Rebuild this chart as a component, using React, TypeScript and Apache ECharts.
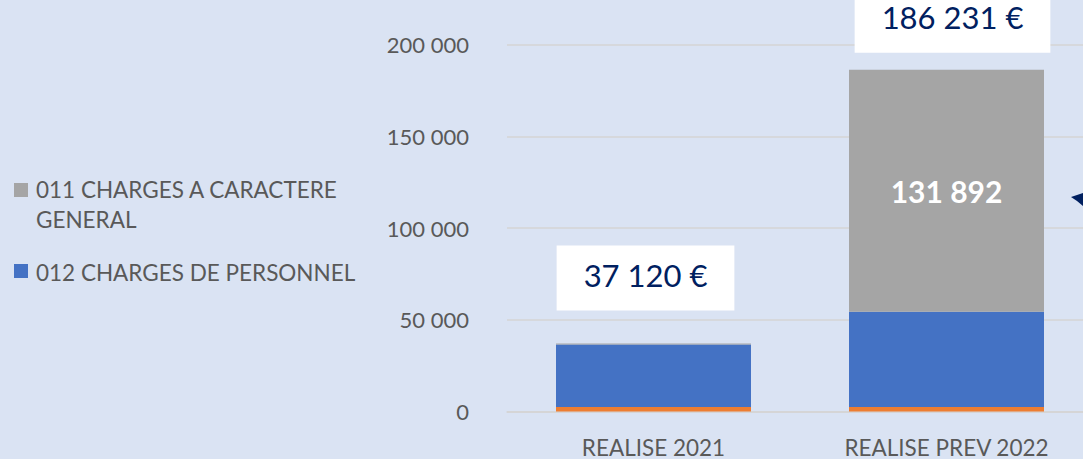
import React, { useEffect, useRef } from "react";
import * as echarts from "echarts";

const categories = ["REALISE 2021", "REALISE PREV 2022"];
const orangeValues = [2500, 2500];
const blueValues = [34000, 51839];
const grayValues = [620, 131892];
const legendNames = ["011 CHARGES A CARACTERE\nGENERAL", "012 CHARGES DE PERSONNEL"];
const totals = categories.map((_, i) => orangeValues[i] + blueValues[i] + grayValues[i]);

const fmt = (v: number) => String(Math.round(v)).replace(/\B(?=(\d{3})+(?!\d))/g, " ");
const FONT = "Lato, 'Noto Sans', sans-serif";

export default function App() {
  const ref = useRef<HTMLDivElement>(null);
  useEffect(() => {
    if (!ref.current) return;
    const chart = echarts.init(ref.current, null, { renderer: "svg" });
    const labelTweaks = [
      { distance: 33, offset: [-8, 0] },
      { distance: 17, offset: [6, 0] },
    ];
    chart.setOption({
      animation: false,
      backgroundColor: "#dae3f3",
      textStyle: { fontFamily: FONT },
      grid: { left: 507, width: 586, top: 44.5, bottom: 47.5, outerBoundsMode: "none", containLabel: false },
      xAxis: {
        type: "category",
        data: categories,
        axisTick: { show: false },
        axisLine: { show: true, lineStyle: { color: "#d4d4d4", width: 1.5 } },
        axisLabel: { color: "#595959", fontSize: 22.5, fontFamily: FONT, margin: 24 },
      },
      yAxis: {
        type: "value",
        min: 0,
        max: 200000,
        interval: 50000,
        axisLine: { show: false },
        axisTick: { show: false },
        splitLine: { lineStyle: { color: "#d4d4d4", width: 1.5 } },
        axisLabel: {
          color: "#595959",
          fontSize: 22,
          fontFamily: FONT,
          margin: 38,
          formatter: (v: number) => fmt(v),
        },
      },
      series: [
        {
          name: "Autres",
          type: "bar",
          stack: "total",
          barWidth: 195,
          data: orangeValues,
          itemStyle: { color: "#ed7d31" },
        },
        {
          name: "012 CHARGES DE PERSONNEL",
          type: "bar",
          stack: "total",
          barWidth: 195,
          data: blueValues,
          itemStyle: { color: "#4472c4" },
        },
        {
          name: "011 CHARGES A CARACTERE GENERAL",
          type: "bar",
          stack: "total",
          barWidth: 195,
          data: grayValues.map((v) => ({
            value: v,
            label: {
              show: v > 10000,
              position: "inside",
              color: "#ffffff",
              fontWeight: "bold",
              fontSize: 30,
              fontFamily: FONT,
              formatter: (p: any) => fmt(p.value),
            },
          })),
          itemStyle: { color: "#a5a5a5" },
        },
        {
          name: "Total",
          type: "scatter",
          symbolSize: 0,
          itemStyle: { opacity: 1 },
          data: totals.map((v, i) => ({
            value: v,
            label: {
              show: true,
              position: "top",
              distance: labelTweaks[i].distance,
              offset: labelTweaks[i].offset,
              formatter: (p: any) => fmt(p.value) + " €",
              color: "#002060",
              fontSize: 31,
              lineHeight: 31,
              fontFamily: FONT,
              backgroundColor: "#ffffff",
              padding: [14, 27, 20, 27],
            },
          })),
          z: 10,
        },
      ],
      graphic: [
        { type: "rect", shape: { x: 14, y: 183, width: 14, height: 14 }, style: { fill: "#a5a5a5" } },
        {
          type: "text",
          x: 36,
          y: 174,
          style: {
            text: legendNames[0],
            fill: "#595959",
            font: `22.5px ${FONT}`,
            lineHeight: 30,
          },
        },
        { type: "rect", shape: { x: 14, y: 264, width: 14, height: 14 }, style: { fill: "#4472c4" } },
        {
          type: "text",
          x: 36,
          y: 257,
          style: {
            text: legendNames[1],
            fill: "#595959",
            font: `22.5px ${FONT}`,
            lineHeight: 30,
          },
        },
        {
          type: "polygon",
          shape: { points: [[1071, 197], [1083, 193], [1083, 206], [1077, 201]] },
          style: { fill: "#002060" },
        },
      ],
    });
    return () => chart.dispose();
  }, []);
  return (
    <div
      ref={ref}
      style={{ position: "fixed", left: 0, top: 0, width: 1083, height: 459 }}
    />
  );
}
